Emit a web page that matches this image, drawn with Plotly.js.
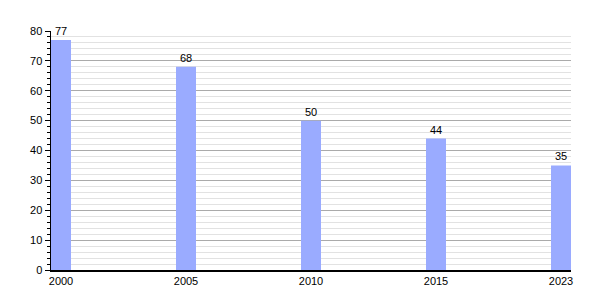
<!DOCTYPE html>
<html><head><meta charset="utf-8">
<script src="https://cdn.plot.ly/plotly-3.0.1.min.js"></script>
<style>body{margin:0}#c{width:600px;height:300px}</style>
</head><body><div id="c"></div>
<script>
const years = ['2000','2005','2010','2015','2023'];
const values = [77, 68, 50, 44, 35];
const pos = years.map((y,i)=>i);
Plotly.newPlot('c', [{
  type:'bar', x:pos, y:values, width:0.16,
  marker:{color:'#9aabff'},
  text:values.map(String), textposition:'outside', cliponaxis:false,
  textfont:{family:'Liberation Sans, Arial, sans-serif', size:11, color:'#000'},
  hoverinfo:'none'
}], {
  width:600, height:300,
  margin:{l:51, r:29, t:31, b:30},
  paper_bgcolor:'#fff', plot_bgcolor:'#fff',
  font:{family:'Liberation Sans, Arial, sans-serif', size:11, color:'#000'},
  showlegend:false,
  xaxis:{range:[-0.08,4.08], tickvals:pos, ticktext:years, showgrid:false, zeroline:false,
    showline:true, linecolor:'#000', linewidth:1.5, ticks:'', ticklen:0, tickfont:{size:11}},
  yaxis:{range:[0,80], dtick:10, showgrid:true, gridcolor:'#aaaaaa', gridwidth:1, zeroline:false,
    showline:true, linecolor:'#000', linewidth:1.5, ticks:'outside', ticklen:5, tickcolor:'#000',
    tickfont:{size:11},
    minor:{dtick:2, showgrid:true, gridcolor:'#e2e2e2', gridwidth:1, ticks:'outside', ticklen:3, tickcolor:'#000'}}
}, {staticPlot:true, displayModeBar:false});
</script></body></html>
